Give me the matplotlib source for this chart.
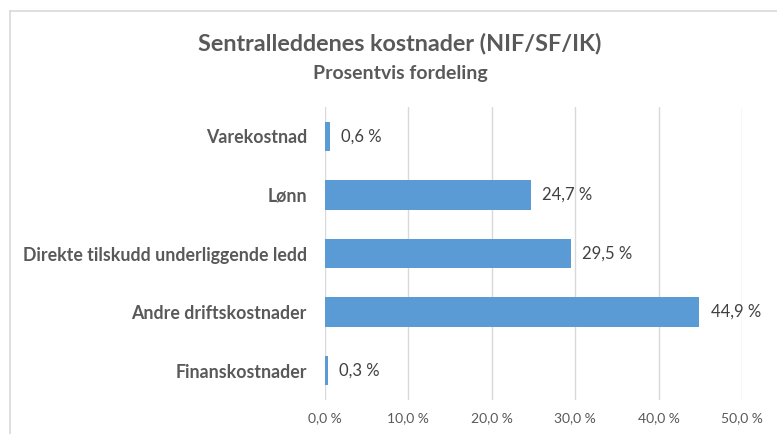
import matplotlib
matplotlib.use("Agg")
import matplotlib.pyplot as plt
from matplotlib.lines import Line2D

categories = ["Varekostnad", "Lønn", "Direkte tilskudd underliggende ledd",
              "Andre driftskostnader", "Finanskostnader"]
values = [0.6, 24.7, 29.5, 44.9, 0.3]
xticks = [0, 10, 20, 30, 40, 50]

def fmt(v):
    return f"{v:.1f}".replace(".", ",") + " %"

plt.rcParams['font.family'] = ['Lato', 'DejaVu Sans']

fig = plt.figure(figsize=(7.77, 4.34), dpi=100)
ax = fig.add_axes([325/777, 1-400/434, (742-325)/777, (400-107)/434])

ypos = list(range(len(categories)))
ax.barh(ypos, values, height=0.5, color="#5B9BD5", zorder=3)
ax.set_ylim(len(categories)-0.5, -0.5)
ax.set_xlim(0, 50)
ax.set_xticks(xticks)
ax.set_xticklabels([fmt(t) for t in xticks], fontsize=10, color="#595959")
ax.set_yticks(ypos)
ax.set_yticklabels(categories, fontsize=12.8, fontweight="bold", color="#595959")
ax.tick_params(axis="both", length=0)
ax.tick_params(axis="x", pad=9)
ax.tick_params(axis="y", pad=13)
ax.grid(axis="x", color="#D9D9D9", linewidth=1, zorder=0)
for s in ax.spines.values():
    s.set_visible(False)

for y, v in zip(ypos, values):
    ax.annotate(fmt(v), xy=(v, y), xytext=(8, 0), textcoords="offset points",
                va="center", ha="left", fontsize=12, color="#404040")

fig.text(400/777, 1-44/434, "Sentralleddenes kostnader (NIF/SF/IK)", ha="center",
         va="center", fontsize=16.8, fontweight="bold", color="#595959")
fig.text(400/777, 1-73/434, "Prosentvis fordeling", ha="center",
         va="center", fontsize=14, fontweight="bold", color="#595959")

# chart frame (left and top edges visible)
fig.add_artist(Line2D([10/777, 10/777], [0, 1-11/434], transform=fig.transFigure,
                      color="#D9D9D9", linewidth=1.2))
fig.add_artist(Line2D([10/777, 1], [1-11/434, 1-11/434], transform=fig.transFigure,
                      color="#D9D9D9", linewidth=1.2))

fig.savefig("out.png", dpi=100)
